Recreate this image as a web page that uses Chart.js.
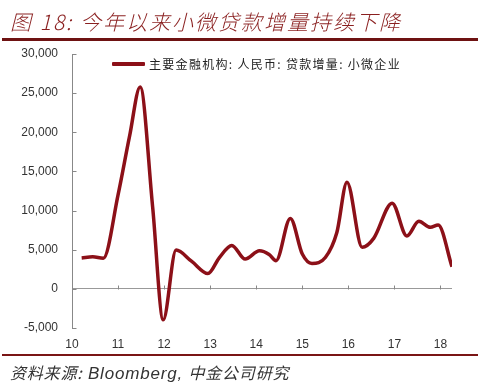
<!DOCTYPE html>
<html>
<head>
<meta charset="utf-8">
<script src="https://cdn.jsdelivr.net/npm/chart.js@4/dist/chart.umd.min.js"></script>
<style>
  html, body { margin:0; padding:0; background:#fff; }
  #wrap { position:relative; width:480px; height:383px; overflow:hidden; }
  #c { position:absolute; left:0; top:0; }
  .title { position:absolute; left:10px; top:6px; font-family:"Noto Sans CJK SC","Noto Sans",sans-serif; font-style:italic; font-size:21px; color:#8a1f1f; white-space:nowrap; letter-spacing:2px; font-weight:300; }
  .rule1 { position:absolute; left:2px; width:476px; top:38px; height:3px; background:#6e1212; }
  .rule2 { position:absolute; left:2px; width:476px; top:354px; height:2px; background:#7a1515; }
  .src { position:absolute; left:10px; top:360px; font-size:17px; font-style:italic; color:#333; white-space:nowrap; font-family:"Liberation Sans",Arial,sans-serif; letter-spacing:0.8px; }
  .src .cjk { font-family:"Noto Sans CJK SC",sans-serif; font-size:16px; letter-spacing:0.8px; }
  .legend { position:absolute; left:112px; top:55px; display:flex; align-items:center; font-family:"Noto Sans CJK SC",sans-serif; font-size:12px; color:#222; white-space:nowrap; letter-spacing:1.3px; }
  .legend .sw { width:33px; height:4px; background:#8c1018; margin-right:4px; border-radius:1px; }
</style>
</head>
<body>
<div id="wrap">
  <canvas id="c" width="480" height="383"></canvas>
  <div class="title">图 18: 今年以来小微贷款增量持续下降</div>
  <div class="rule1"></div>
  <div class="legend"><div class="sw"></div><span id="legtext"></span></div>
  <div class="rule2"></div>
  <div class="src"><span class="cjk">资料来源:</span> Bloomberg, <span class="cjk">中金公司研究</span></div>
</div>
<script>
// Data (x in years, e.g. 11.5 = mid-2011)
const SERIES_NAME = "主要金融机构: 人民币: 贷款增量: 小微企业";
const X_VALUES = [10.21, 10.45, 10.68, 11.00, 11.25, 11.48, 11.75, 11.98, 12.26, 12.60, 12.95, 13.20, 13.47, 13.76, 14.07, 14.28, 14.43, 14.74, 15.00, 15.21, 15.50, 15.75, 15.97, 16.30, 16.55, 16.95, 17.27, 17.53, 17.78, 17.95, 18.25];
const Y_VALUES = [3950, 4100, 3900, 12000, 19500, 25800, 10500, -3950, 4950, 3500, 1950, 4000, 5550, 3800, 4870, 4400, 3600, 9000, 4450, 3250, 4000, 7200, 13630, 5300, 6450, 10950, 6750, 8630, 7860, 8150, 2820];
const X_TICKS = [10, 11, 12, 13, 14, 15, 16, 17, 18];
const X_TICK_LABELS = ["10", "11", "12", "13", "14", "15", "16", "17", "18"];
const Y_TICKS = [-5000, 0, 5000, 10000, 15000, 20000, 25000, 30000];
const Y_TICK_LABELS = ["-5,000", "0", "5,000", "10,000", "15,000", "20,000", "25,000", "30,000"];

document.getElementById('legtext').textContent = SERIES_NAME;

const points = X_VALUES.map((x, i) => ({ x: x, y: Y_VALUES[i] }));

const innerTicks = {
  id: 'innerTicks',
  afterDraw(chart) {
    const ctx = chart.ctx;
    const xs = chart.scales.x, ys = chart.scales.y;
    ctx.save();
    ctx.strokeStyle = '#888';
    ctx.lineWidth = 1;
    const left = Math.round(xs.left) + 0.5;
    Y_TICKS.forEach(v => {
      const py = Math.round(ys.getPixelForValue(v)) + 0.5;
      ctx.beginPath(); ctx.moveTo(left, py); ctx.lineTo(left + 4, py); ctx.stroke();
    });
    const y0 = Math.round(ys.getPixelForValue(0)) + 0.5;
    X_TICKS.forEach(v => {
      const px = Math.round(xs.getPixelForValue(v)) + 0.5;
      ctx.beginPath(); ctx.moveTo(px, y0); ctx.lineTo(px, y0 - 4); ctx.stroke();
    });
    ctx.restore();
  }
};

new Chart(document.getElementById('c'), {
  type: 'line',
  data: {
    datasets: [{
      label: SERIES_NAME,
      data: points,
      borderColor: '#8c1018',
      borderWidth: 3.5,
      pointRadius: 0,
      cubicInterpolationMode: 'monotone',
      fill: false
    }]
  },
  options: {
    responsive: false,
    animation: false,
    layout: { padding: { left: 0, right: 28, top: 54, bottom: 0 } },
    plugins: { legend: { display: false }, tooltip: { enabled: false }, title: { display: false } },
    scales: {
      x: {
        type: 'linear',
        min: 10, max: 18.25,
        afterBuildTicks: s => { s.ticks = X_TICKS.map(v => ({ value: v })); },
        afterFit: s => { s.height = 55; },
        grid: { display: false },
        border: { display: false },
        ticks: {
          padding: 1,
          color: '#333',
          font: { family: '"Liberation Sans", Arial, sans-serif', size: 12 },
          callback: (v) => { const i = X_TICKS.indexOf(v); return i >= 0 ? X_TICK_LABELS[i] : ''; },
          maxRotation: 0, autoSkip: false
        }
      },
      y: {
        min: -5000, max: 30000,
        afterBuildTicks: s => { s.ticks = Y_TICKS.map(v => ({ value: v })); },
        afterFit: s => { s.width = 72; },
        grid: {
          drawTicks: false,
          color: ctx => (ctx.tick && ctx.tick.value === 0) ? '#999' : 'rgba(0,0,0,0)',
          lineWidth: 1
        },
        border: { display: true, color: '#888', width: 1 },
        ticks: {
          padding: 14,
          color: '#333',
          font: { family: '"Liberation Sans", Arial, sans-serif', size: 12 },
          callback: (v) => { const i = Y_TICKS.indexOf(v); return i >= 0 ? Y_TICK_LABELS[i] : ''; }
        }
      }
    }
  },
  plugins: [innerTicks]
});
</script>
</body>
</html>
